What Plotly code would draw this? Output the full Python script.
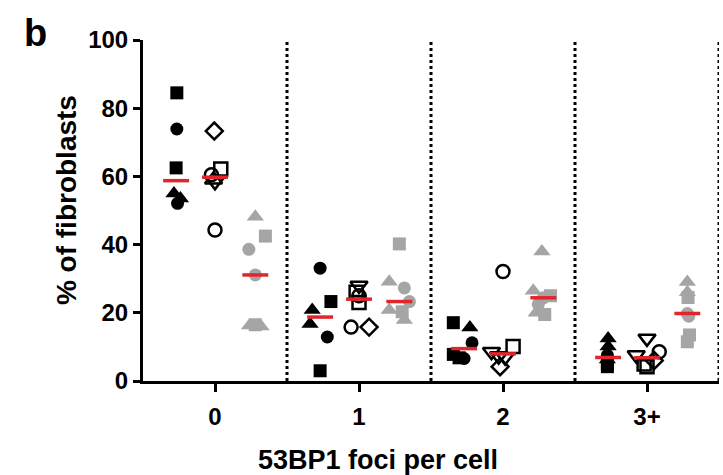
import numpy as np
import plotly.graph_objects as go

# ---------------- data ----------------
categories = ["0", "1", "2", "3+"]

# black filled group (% of fibroblasts per sample)
black_vals = [
    [84.5, 73.9, 62.5, 55.0, 53.5, 52.1],
    [33.1, 23.3, 20.8, 16.7, 12.9, 3.0],
    [17.1, 15.7, 11.2, 7.8, 6.6, 6.8],
    [12.5, 10.1, 7.5, 6.3, 5.0, 4.2],
]
black_syms = [
    ["square", "circle", "square", "triangle-up", "triangle-up", "circle"],
    ["circle", "square", "triangle-up", "triangle-up", "circle", "square"],
    ["square", "triangle-up", "circle", "square", "circle", "square"],
    ["triangle-up", "triangle-up", "circle", "triangle-up", "square", "square"],
]

# open (hollow) group
open_vals = [
    [73.3, 62.2, 60.5, 58.4, 59.0, 44.3],
    [28.0, 26.0, 25.0, 23.0, 15.8, 15.8],
    [32.1, 10.1, 8.6, 7.3, 7.0, 4.2],
    [12.5, 8.6, 7.6, 6.0, 5.0, 4.2],
]
open_syms = [
    ["diamond", "square", "circle", "triangle-down", "triangle-up", "circle"],
    ["triangle-down", "square", "circle", "square", "circle", "diamond"],
    ["circle", "square", "triangle-down", "triangle-down", "triangle-down", "diamond"],
    ["triangle-down", "circle", "triangle-down", "diamond", "square", "square"],
]

# grey filled group
grey_vals = [
    [48.2, 42.5, 38.6, 31.1, 16.3, 16.5, 16.0],
    [40.2, 29.1, 27.3, 23.3, 20.8, 20.3, 17.9],
    [38.0, 26.5, 25.0, 24.4, 22.5, 20.0, 19.5],
    [29.0, 26.0, 24.5, 19.8, 19.0, 13.5, 11.5],
]
grey_syms = [
    ["triangle-up", "square", "circle", "circle", "triangle-up", "square", "triangle-up"],
    ["square", "triangle-up", "circle", "circle", "triangle-up", "square", "triangle-up"],
    ["triangle-up", "triangle-up", "square", "circle", "circle", "triangle-up", "square"],
    ["triangle-up", "triangle-up", "square", "circle", "circle", "square", "square"],
]

y_ticks = [0, 20, 40, 60, 80, 100]

# ---------------- layout / positioning (styling, not data) ----------------
group_offset = {"black": -0.27, "open": 0.0, "grey": 0.28}
# horizontal scatter offsets (in category units) within each group
black_jit = [
    [0.005, 0.005, 0.0, -0.015, 0.03, 0.01],
    [0.0, 0.075, -0.055, -0.07, 0.05, 0.0],
    [-0.075, 0.04, 0.055, -0.075, 0.0, -0.035],
    [0.0, 0.0, -0.005, -0.005, -0.005, -0.005],
]
open_jit = [
    [-0.005, 0.04, -0.025, 0.0, -0.01, 0.0],
    [0.0, -0.02, 0.0, 0.0, -0.055, 0.07],
    [0.0, 0.07, -0.08, -0.03, 0.015, -0.02],
    [0.0, 0.085, -0.075, 0.05, -0.02, 0.0],
]
grey_jit = [
    [0.0, 0.07, -0.045, 0.0, -0.04, 0.0, 0.04],
    [0.0, -0.07, 0.035, 0.07, -0.07, 0.02, 0.035],
    [-0.01, -0.07, 0.05, 0.0, -0.035, -0.05, 0.01],
    [0.0, 0.0, 0.005, 0.0, 0.01, 0.015, 0.0],
]

BLACK = "#000000"
GREY = "#a5a5a5"
RED = "#e0262c"
FONT = "Liberation Sans, Arial, sans-serif"

fig = go.Figure()


def add_group(vals, syms, jit, key, color, hollow):
    xs, ys, ss = [], [], []
    for ci, (v, s, j) in enumerate(zip(vals, syms, jit)):
        for vi, si, ji in zip(v, s, j):
            xs.append(ci + group_offset[key] + ji)
            ys.append(vi)
            ss.append(si + "-open" if hollow else si)
    sizes = [15 if "triangle" in s else 13 for s in ss]
    fig.add_trace(go.Scatter(
        x=xs, y=ys, mode="markers", showlegend=False, cliponaxis=False,
        marker=dict(symbol=ss, size=sizes, color=color, opacity=1,
                    line=dict(width=2.5 if hollow else 0, color=color)),
    ))


add_group(black_vals, black_syms, black_jit, "black", BLACK, False)
add_group(open_vals, open_syms, open_jit, "open", BLACK, True)
add_group(grey_vals, grey_syms, grey_jit, "grey", GREY, False)

# median lines
mx, my = [], []
for key, vals in (("black", black_vals), ("open", open_vals), ("grey", grey_vals)):
    for ci, v in enumerate(vals):
        m = float(np.median(v))
        c = ci + group_offset[key]
        mx += [c - 0.09, c + 0.09, None]
        my += [m, m, None]
fig.add_trace(go.Scatter(x=mx, y=my, mode="lines", showlegend=False,
                         cliponaxis=False, line=dict(color=RED, width=3.5)))

# dotted separators
for xv in (0.5, 1.5, 2.5, 3.5):
    fig.add_shape(type="line", x0=xv, x1=xv, y0=0, y1=100, xref="x", yref="y",
                  line=dict(color=BLACK, width=3, dash="3px,3px"), layer="below")

fig.update_layout(
    width=723, height=475,
    margin=dict(l=143, r=4, t=40, b=94),
    plot_bgcolor="white", paper_bgcolor="white",
    font=dict(family=FONT, size=24, color=BLACK),
    xaxis=dict(range=[-0.5, 3.5], showgrid=False, zeroline=False,
               showline=True, linewidth=3, linecolor=BLACK,
               ticks="outside", ticklen=8, tickwidth=3, tickcolor=BLACK,
               tickvals=list(range(len(categories))), ticktext=categories,
               tickfont=dict(family=FONT, size=24, color=BLACK, weight="bold"),
               ticklabelstandoff=4),
    yaxis=dict(range=[0, 100], showgrid=False, zeroline=False,
               showline=True, linewidth=3, linecolor=BLACK,
               ticks="outside", ticklen=7, tickwidth=3, tickcolor=BLACK,
               tickvals=y_ticks, ticktext=[str(t) for t in y_ticks],
               tickfont=dict(family=FONT, size=24, color=BLACK, weight="bold")),
    annotations=[
        dict(text="% of fibroblasts", xref="paper", yref="paper",
             x=-0.134, y=0.53, xanchor="center", yanchor="middle",
             textangle=-90, showarrow=False,
             font=dict(family=FONT, size=28, color=BLACK, weight="bold")),
        dict(text="53BP1 foci per cell", xref="paper", yref="paper",
             x=0.408, y=-0.233, xanchor="center", yanchor="middle",
             showarrow=False,
             font=dict(family=FONT, size=27, color=BLACK, weight="bold")),
        dict(text="b", xref="paper", yref="paper",
             x=-0.187, y=1.02, xanchor="center", yanchor="middle",
             showarrow=False,
             font=dict(family=FONT, size=38, color=BLACK, weight="bold")),
    ],
)

fig.write_html("out.html", config={"displayModeBar": False},
               post_script="document.body.style.margin='0px';")
